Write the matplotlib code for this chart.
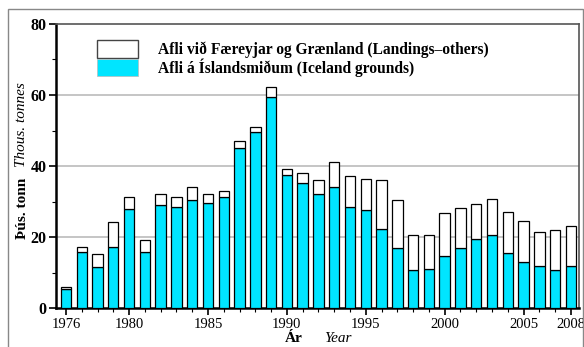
import matplotlib
matplotlib.use("Agg")
import matplotlib.pyplot as plt
from matplotlib.patches import Rectangle, Patch
import numpy as np

years = list(range(1976, 2009))
iceland = [5.3, 15.7, 11.6, 17.1, 28.0, 15.8, 29.0, 28.5, 30.3, 29.5, 31.3, 45.0, 49.7,
           59.5, 37.5, 35.3, 32.1, 34.2, 28.5, 27.5, 22.2, 16.9, 10.6, 11.1, 14.6, 16.8,
           19.3, 20.5, 15.6, 13.0, 11.9, 10.6, 11.9]
total = [6.0, 17.1, 15.1, 24.2, 31.2, 19.2, 32.1, 31.2, 34.0, 32.1, 33.0, 47.1, 51.1,
         62.2, 39.1, 38.1, 36.1, 41.0, 37.2, 36.4, 36.0, 30.3, 20.5, 20.5, 26.7, 28.1,
         29.3, 30.6, 27.0, 24.4, 21.3, 22.0, 23.0]
others = [t - i for t, i in zip(total, iceland)]
xtick_labels = [1976, 1980, 1985, 1990, 1995, 2000, 2005, 2008]
ytick_values = [0, 20, 40, 60, 80]
label_others = "Afli við Færeyjar og Grænland (Landings\u2013others)"
label_iceland = "Afli á Íslandsmiðum (Iceland grounds)"

CYAN = "#00E5FF"
SERIF = ["Liberation Serif", "DejaVu Serif"]
plt.rcParams['font.family'] = SERIF

fig = plt.figure(figsize=(5.84, 3.47), dpi=100)
W, H = 584, 347
ax = fig.add_axes([56 / W, (H - 308) / H, (579 - 56) / W, (308 - 24) / H])

ax.bar(years, iceland, width=0.66, color=CYAN, edgecolor="black", linewidth=0.9, zorder=3)
ax.bar(years, others, bottom=iceland, width=0.66, color="white", edgecolor="black",
       linewidth=0.9, zorder=3)

ax.set_xlim(1975.37, 2008.51)
ax.set_ylim(0, 80)
ax.set_yticks(ytick_values)
ax.set_yticks(range(0, 81, 10), minor=True)
ax.set_yticklabels([str(v) for v in ytick_values], fontsize=11.5, fontweight="bold")
ax.set_xticks(xtick_labels)
ax.set_xticks(years, minor=True)
ax.set_xticklabels([str(v) for v in xtick_labels], fontsize=10.5)
ax.tick_params(axis="both", which="major", length=5, width=1.2, direction="out", pad=2)
ax.tick_params(axis="both", which="minor", length=3, width=0.8, direction="out")

for y in [20, 40, 60]:
    ax.axhline(y, color="#c0c0c0", linewidth=1.3, zorder=1)

for s in ["left", "bottom"]:
    ax.spines[s].set_linewidth(1.8)
    ax.spines[s].set_color("black")
for s in ["top", "right"]:
    ax.spines[s].set_linewidth(1.2)
    ax.spines[s].set_color("#555555")

handles = [Patch(facecolor="white", edgecolor="#444444", linewidth=1.0),
           Patch(facecolor=CYAN, edgecolor="#bbbbbb", linewidth=0.5)]
leg = ax.legend(handles, [label_others, label_iceland], loc="upper left",
                bbox_to_anchor=((97 - 56) / 523, (308 - 40) / 284), frameon=False,
                borderpad=0, borderaxespad=0, labelspacing=0, handlelength=2.65,
                handleheight=1.4, handletextpad=1.3,
                prop={"family": SERIF, "weight": "bold", "size": 11.2})

# axis titles
fig.text(22 / W, 1 - 208 / H, "Þús. tonn", rotation=90, ha="center", va="center",
         fontsize=11, fontweight="bold")
fig.text(22 / W, 1 - 125 / H, "Thous. tonnes", rotation=90, ha="center", va="center",
         fontsize=11, style="italic")
fig.text(294 / W, 1 - 339 / H, "Ár", ha="center", va="center", fontsize=11, fontweight="bold")
fig.text(338 / W, 1 - 339 / H, "Year", ha="center", va="center", fontsize=11, style="italic")

# outer frame
fig.patches.append(Rectangle((8 / W, -0.05), (583 - 8) / W, 1.05 - 9 / H,
                             transform=fig.transFigure, fill=False,
                             edgecolor="#888888", linewidth=1.0))

fig.savefig("out.png", dpi=100)
